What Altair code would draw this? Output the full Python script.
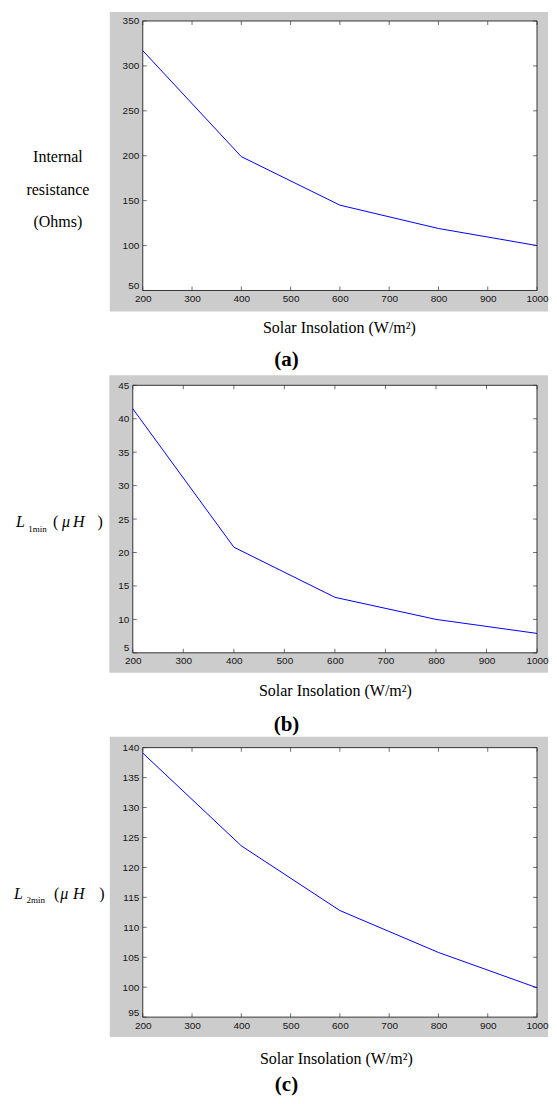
import altair as alt
import pandas as pd

# ---- data ----
insolation = [200, 400, 600, 800, 1000]
resistance = [317, 199, 145, 119, 100]
l1min = [41.5, 20.8, 13.3, 10.0, 7.9]
l2min = [139.1, 123.6, 112.8, 105.8, 99.9]

x_ticks = [200, 300, 400, 500, 600, 700, 800, 900, 1000]
y_ticks_a = [50, 100, 150, 200, 250, 300, 350]
y_ticks_b = [5, 10, 15, 20, 25, 30, 35, 40, 45]
y_ticks_c = [95, 100, 105, 110, 115, 120, 125, 130, 135, 140]

x_title = "Solar Insolation (W/m²)"

# ---- styling ----
W = 405
GRAY = "#cccccc"
FRAME = "#333333"
SANS = "Liberation Sans"
SERIF = "Liberation Serif"
LBL = "#141414"
one = pd.DataFrame({"k": [0]})


def txt(s, x, y, size=16, style="normal", weight="normal", align="left", baseline="alphabetic"):
    return alt.Chart(one).mark_text(
        text=s, font=SERIF, fontSize=size, fontStyle=style, fontWeight=weight,
        align=align, baseline=baseline, color="black"
    ).encode(x=alt.value(x), y=alt.value(y))


def panel(yvals, ydomain, yticks, H, dx, gray, xlabel_pos, tag, tag_pos, extra):
    xs = alt.Scale(domain=[200, 1000], range=[dx, W], nice=False, zero=False)
    ys = alt.Scale(domain=ydomain, nice=False, zero=False)
    xaxis = alt.Axis(values=x_ticks, title=None, ticks=False, domain=False, grid=False,
                     labelPadding=3, labelFont=SANS, labelFontSize=10, labelColor=LBL,
                     labelFlush=False, labelOverlap=False, zindex=1, format="d")
    yaxis = alt.Axis(values=yticks, title=None, ticks=False, domain=False, grid=False,
                     labelPadding=4, labelFont=SANS, labelFontSize=10, labelColor=LBL,
                     labelFlush=False, labelOverlap=False, zindex=1, format="d", offset=-dx,
                     labelBaseline={"condition": {"test": f"datum.value == {ydomain[0]}",
                                                  "value": "bottom"},
                                    "value": "middle"})
    df = pd.DataFrame({"x": insolation, "y": yvals})

    bg = alt.Chart(one).mark_rect(fill=GRAY).encode(
        x=alt.value(gray[0]), x2=alt.value(gray[1]), y=alt.value(gray[2]), y2=alt.value(gray[3]))
    box = alt.Chart(one).mark_rect(fill="white", stroke=FRAME, strokeWidth=1).encode(
        x=alt.value(dx), x2=alt.value(W), y=alt.value(0), y2=alt.value(H))
    line = alt.Chart(df).mark_line(color="#0000ff", strokeWidth=1).encode(
        x=alt.X("x:Q", scale=xs, axis=xaxis), y=alt.Y("y:Q", scale=ys, axis=yaxis))

    xt = pd.DataFrame({"x": x_ticks})
    yt = pd.DataFrame({"y": yticks})
    xt_b = alt.Chart(xt).mark_tick(orient="vertical", size=4, thickness=1, color=FRAME).encode(
        x=alt.X("x:Q", scale=xs, axis=xaxis), y=alt.value(H - 2))
    xt_t = alt.Chart(xt).mark_tick(orient="vertical", size=4, thickness=1, color=FRAME).encode(
        x=alt.X("x:Q", scale=xs, axis=xaxis), y=alt.value(2))
    yt_l = alt.Chart(yt).mark_tick(orient="horizontal", size=4, thickness=1, color=FRAME).encode(
        y=alt.Y("y:Q", scale=ys, axis=yaxis), x=alt.value(dx + 2))
    yt_r = alt.Chart(yt).mark_tick(orient="horizontal", size=4, thickness=1, color=FRAME).encode(
        y=alt.Y("y:Q", scale=ys, axis=yaxis), x=alt.value(W - 2))

    xl = txt(x_title, xlabel_pos[0], xlabel_pos[1], size=16, align="center", baseline="middle")
    tg = txt(tag, tag_pos[0], tag_pos[1], size=21, weight="bold", align="center", baseline="middle")

    layers = [bg, box, line, xt_b, xt_t, yt_l, yt_r, xl, tg] + extra
    return alt.layer(*layers).properties(width=W, height=H)


# panel (a)
pin = alt.Chart(one).mark_rect(fill="white").encode(
    x=alt.value(-125), x2=alt.value(-124), y=alt.value(-12), y2=alt.value(-11))
ylab_a = alt.Chart(one).mark_text(
    text=["Internal", "resistance", "(Ohms)"], font=SERIF, fontSize=16, lineHeight=32.5,
    align="center", baseline="middle", color="black"
).encode(x=alt.value(-75), y=alt.value(136.5))
pa = panel(resistance, [50, 350], y_ticks_a, 270, 10, (-23, 416, -9, 291),
           (207, 308), "(a)", (154, 340), [ylab_a, pin])

# panel (b)
ylab_b = [
    txt("L", -117, 142.3, style="italic"),
    txt("1min", -104.6, 147.3, size=9),
    txt("(", -80, 142.3),
    txt("μ", -71, 142.3, style="italic"),
    txt("H", -60, 142.3, style="italic"),
    txt(")", -35.3, 142.3),
]
pb = panel(l1min, [5, 45], y_ticks_b, 268, 0, (-23.5, 416, -10, 288),
           (203, 306), "(b)", (154, 340), ylab_b)

# panel (c)
ylab_c = [
    txt("L", -119, 152, style="italic"),
    txt("2min", -106.4, 156, size=9),
    txt("(", -79, 152),
    txt("μ", -72.6, 152, style="italic"),
    txt("H", -60, 152, style="italic"),
    txt(")", -33.5, 152),
]
pc = panel(l2min, [95, 140], y_ticks_c, 270, 10, (-23, 416, -11, 290),
           (204, 312), "(c)", (154, 338), ylab_c)

chart = alt.vconcat(pa, pb, pc, spacing=95, bounds="flush").properties(
    padding=0, background="white"
).configure_view(strokeWidth=0)

chart.save("out.html", embed_options={"renderer": "svg", "actions": False})
